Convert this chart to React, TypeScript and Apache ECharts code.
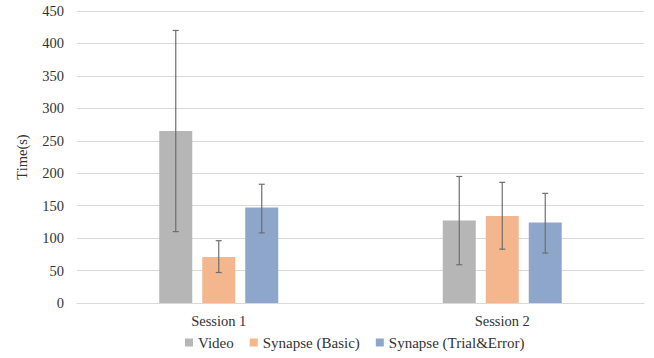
import React, { useEffect, useRef } from "react";
import * as echarts from "echarts";

const categories = ["Session 1", "Session 2"];
const seriesNames = ["Video", "Synapse (Basic)", "Synapse (Trial&Error)"];
const videoValues = [265, 127];
const basicValues = [71, 134];
const trialValues = [147, 124];
const videoErr = [[110, 420], [59, 195]];
const basicErr = [[47, 96], [83, 186]];
const trialErr = [[108, 183], [77, 169]];
const yTicks = { min: 0, max: 450, interval: 50 };

const colors = ["#b6b6b6", "#f4b68c", "#8fa6cb"];
const BAR_W = 33;
const GAP_PX = 10;
const FONT = "'Liberation Serif', serif";

export default function App() {
  const ref = useRef<HTMLDivElement>(null);
  useEffect(() => {
    if (!ref.current) return;
    const chart = echarts.init(ref.current, undefined, { renderer: "svg" });
    const values = [videoValues, basicValues, trialValues];
    const errs = [videoErr, basicErr, trialErr];
    const errData: number[][] = [];
    errs.forEach((e, si) =>
      e.forEach((pair, ci) => errData.push([ci, pair[0], pair[1], si]))
    );
    chart.setOption({
      animation: false,
      textStyle: { fontFamily: FONT },
      grid: { left: 77, right: 10, top: 11, bottom: 55 },
      legend: {
        data: seriesNames,
        bottom: 3,
        left: 180,
        itemWidth: 8,
        itemHeight: 8,
        itemGap: 16,
        icon: "rect",
        textStyle: { fontFamily: FONT, fontSize: 15, color: "#333" },
      },
      xAxis: {
        type: "category",
        data: categories,
        axisLine: { show: true, lineStyle: { color: "#d9d9d9" } },
        axisTick: { show: false },
        axisLabel: { fontFamily: FONT, fontSize: 14.5, color: "#333", margin: 10 },
      },
      yAxis: {
        type: "value",
        min: yTicks.min,
        max: yTicks.max,
        interval: yTicks.interval,
        name: "Time(s)",
        nameLocation: "middle",
        nameGap: 48,
        nameTextStyle: { fontFamily: FONT, fontSize: 14.5, color: "#333" },
        axisLine: { show: false },
        axisTick: { show: false },
        axisLabel: { fontFamily: FONT, fontSize: 14.5, color: "#333", margin: 13 },
        splitLine: { lineStyle: { color: "#d9d9d9" } },
      },
      series: [
        ...seriesNames.map((name, i) => ({
          name,
          type: "bar",
          data: values[i],
          barWidth: BAR_W,
          barGap: (GAP_PX / BAR_W) * 100 + "%",
          itemStyle: { color: colors[i] },
        })),
        {
          type: "custom",
          data: errData,
          z: 10,
          silent: true,
          renderItem: (params: any, api: any) => {
            const ci = api.value(0);
            const si = api.value(3);
            const lo = api.coord([ci, api.value(1)]);
            const hi = api.coord([ci, api.value(2)]);
            const x = lo[0] + (si - 1) * (BAR_W + GAP_PX);
            const cap = 3;
            const style = { stroke: "#6e6e6e", lineWidth: 1.2 };
            return {
              type: "group",
              children: [
                { type: "line", shape: { x1: x, y1: lo[1], x2: x, y2: hi[1] }, style },
                { type: "line", shape: { x1: x - cap, y1: lo[1], x2: x + cap, y2: lo[1] }, style },
                { type: "line", shape: { x1: x - cap, y1: hi[1], x2: x + cap, y2: hi[1] }, style },
              ],
            };
          },
        },
      ],
    });
    return () => chart.dispose();
  }, []);
  return (
    <div
      ref={ref}
      style={{ position: "fixed", left: 0, top: 0, width: 654, height: 358, background: "#fff" }}
    />
  );
}
